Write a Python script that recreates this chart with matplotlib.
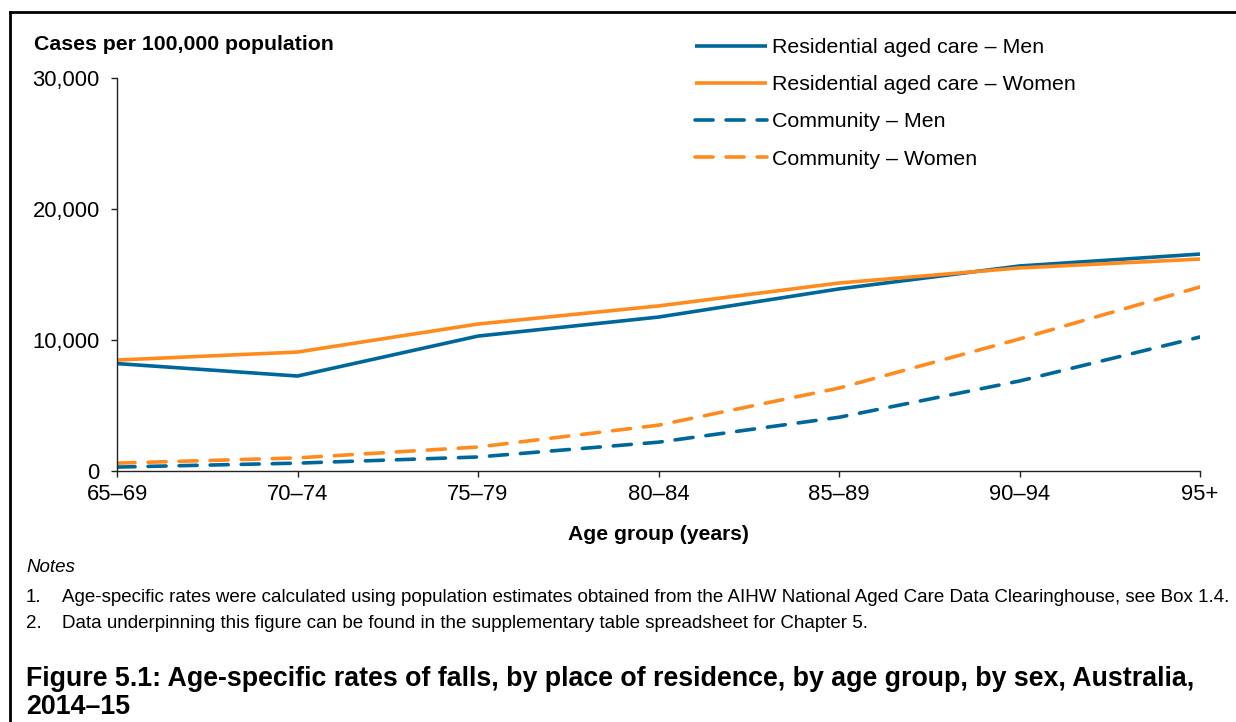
import matplotlib
matplotlib.use("Agg")
import matplotlib.pyplot as plt
from matplotlib.lines import Line2D

plt.rcParams['font.family'] = ['Liberation Sans', 'DejaVu Sans']

age_groups = ["65–69", "70–74", "75–79", "80–84", "85–89", "90–94", "95+"]
rac_men = [8200, 7250, 10300, 11750, 13900, 15650, 16560]
rac_women = [8470, 9080, 11220, 12600, 14350, 15500, 16180]
comm_men = [300, 600, 1070, 2200, 4100, 6870, 10230]
comm_women = [600, 1000, 1830, 3500, 6330, 10080, 14050]
series_labels = ["Residential aged care – Men", "Residential aged care – Women",
                 "Community – Men", "Community – Women"]
y_ticks = [0, 10000, 20000, 30000]

blue = "#00679B"
orange = "#FF8B1E"

W, H = 1236, 722
fig = plt.figure(figsize=(W / 100, H / 100), dpi=100)
ax = fig.add_axes([117 / W, 1 - 471 / H, (1200 - 117) / W, (471 - 78) / H])

x = list(range(len(age_groups)))
lw = 2.6
ax.plot(x, rac_men, color=blue, lw=lw, label=series_labels[0], solid_capstyle='butt')
ax.plot(x, rac_women, color=orange, lw=lw, label=series_labels[1], solid_capstyle='butt')
ax.plot(x, comm_men, color=blue, lw=lw, label=series_labels[2], linestyle=(0, (5.0, 3.6)),
        dash_capstyle='round')
ax.plot(x, comm_women, color=orange, lw=lw, label=series_labels[3], linestyle=(0, (5.0, 3.6)),
        dash_capstyle='round')

ax.set_xlim(0, len(age_groups) - 1)
ax.set_ylim(0, 30000)
ax.set_xticks(x)
ax.set_xticklabels(age_groups, fontsize=15.8)
ax.set_yticks(y_ticks)
ax.set_yticklabels([f"{v:,}" for v in y_ticks], fontsize=15.8)
for s in ['top', 'right']:
    ax.spines[s].set_visible(False)
for s in ['left', 'bottom']:
    ax.spines[s].set_color('#222222')
    ax.spines[s].set_linewidth(1.0)
ax.tick_params(axis='both', direction='out', length=4.5, width=1.0, color='#222222',
               labelcolor='black')
ax.tick_params(axis='y', pad=8)
ax.tick_params(axis='x', pad=5)

ax.set_xlabel("Age group (years)", fontsize=15.2, fontweight='bold', labelpad=14.5)
fig.text(34 / W, 1 - 44 / H, "Cases per 100,000 population", fontsize=15.3,
         fontweight='bold', va='center', ha='left')

leg = ax.legend(loc='upper left', bbox_to_anchor=(695 / W, 1 - 38 / H),
                bbox_transform=fig.transFigure, frameon=False, fontsize=15.4,
                handlelength=3.36, handletextpad=0.23, labelspacing=0.85,
                borderaxespad=0, borderpad=0)

# Notes and caption
fig.text(26 / W, 1 - 567 / H, "Notes", fontsize=13.5, style='italic', va='center')
notes = [
    "Age-specific rates were calculated using population estimates obtained from the AIHW National Aged Care Data Clearinghouse, see Box 1.4.",
    "Data underpinning this figure can be found in the supplementary table spreadsheet for Chapter 5.",
]
for i, (ny, note) in enumerate(zip([597, 624], notes)):
    fig.text(26 / W, 1 - ny / H, f"{i + 1}.", fontsize=13.5, va='center')
    fig.text(62 / W, 1 - ny / H, note, fontsize=13.5, va='center')

caption = ["Figure 5.1: Age-specific rates of falls, by place of residence, by age group, by sex, Australia,",
           "2014–15"]
for cy, line in zip([679, 707], caption):
    fig.text(26 / W, 1 - cy / H, line, fontsize=19.3, fontweight='bold', va='center', ha='left')

# frame (top and left edges)
fig.add_artist(Line2D([9.5 / W, 9.5 / W], [0, 1 - 12 / H], transform=fig.transFigure,
                      color='black', lw=2))
fig.add_artist(Line2D([9.5 / W, 1], [1 - 12 / H, 1 - 12 / H], transform=fig.transFigure,
                      color='black', lw=2))

fig.savefig("out.png", dpi=100, facecolor='white')
